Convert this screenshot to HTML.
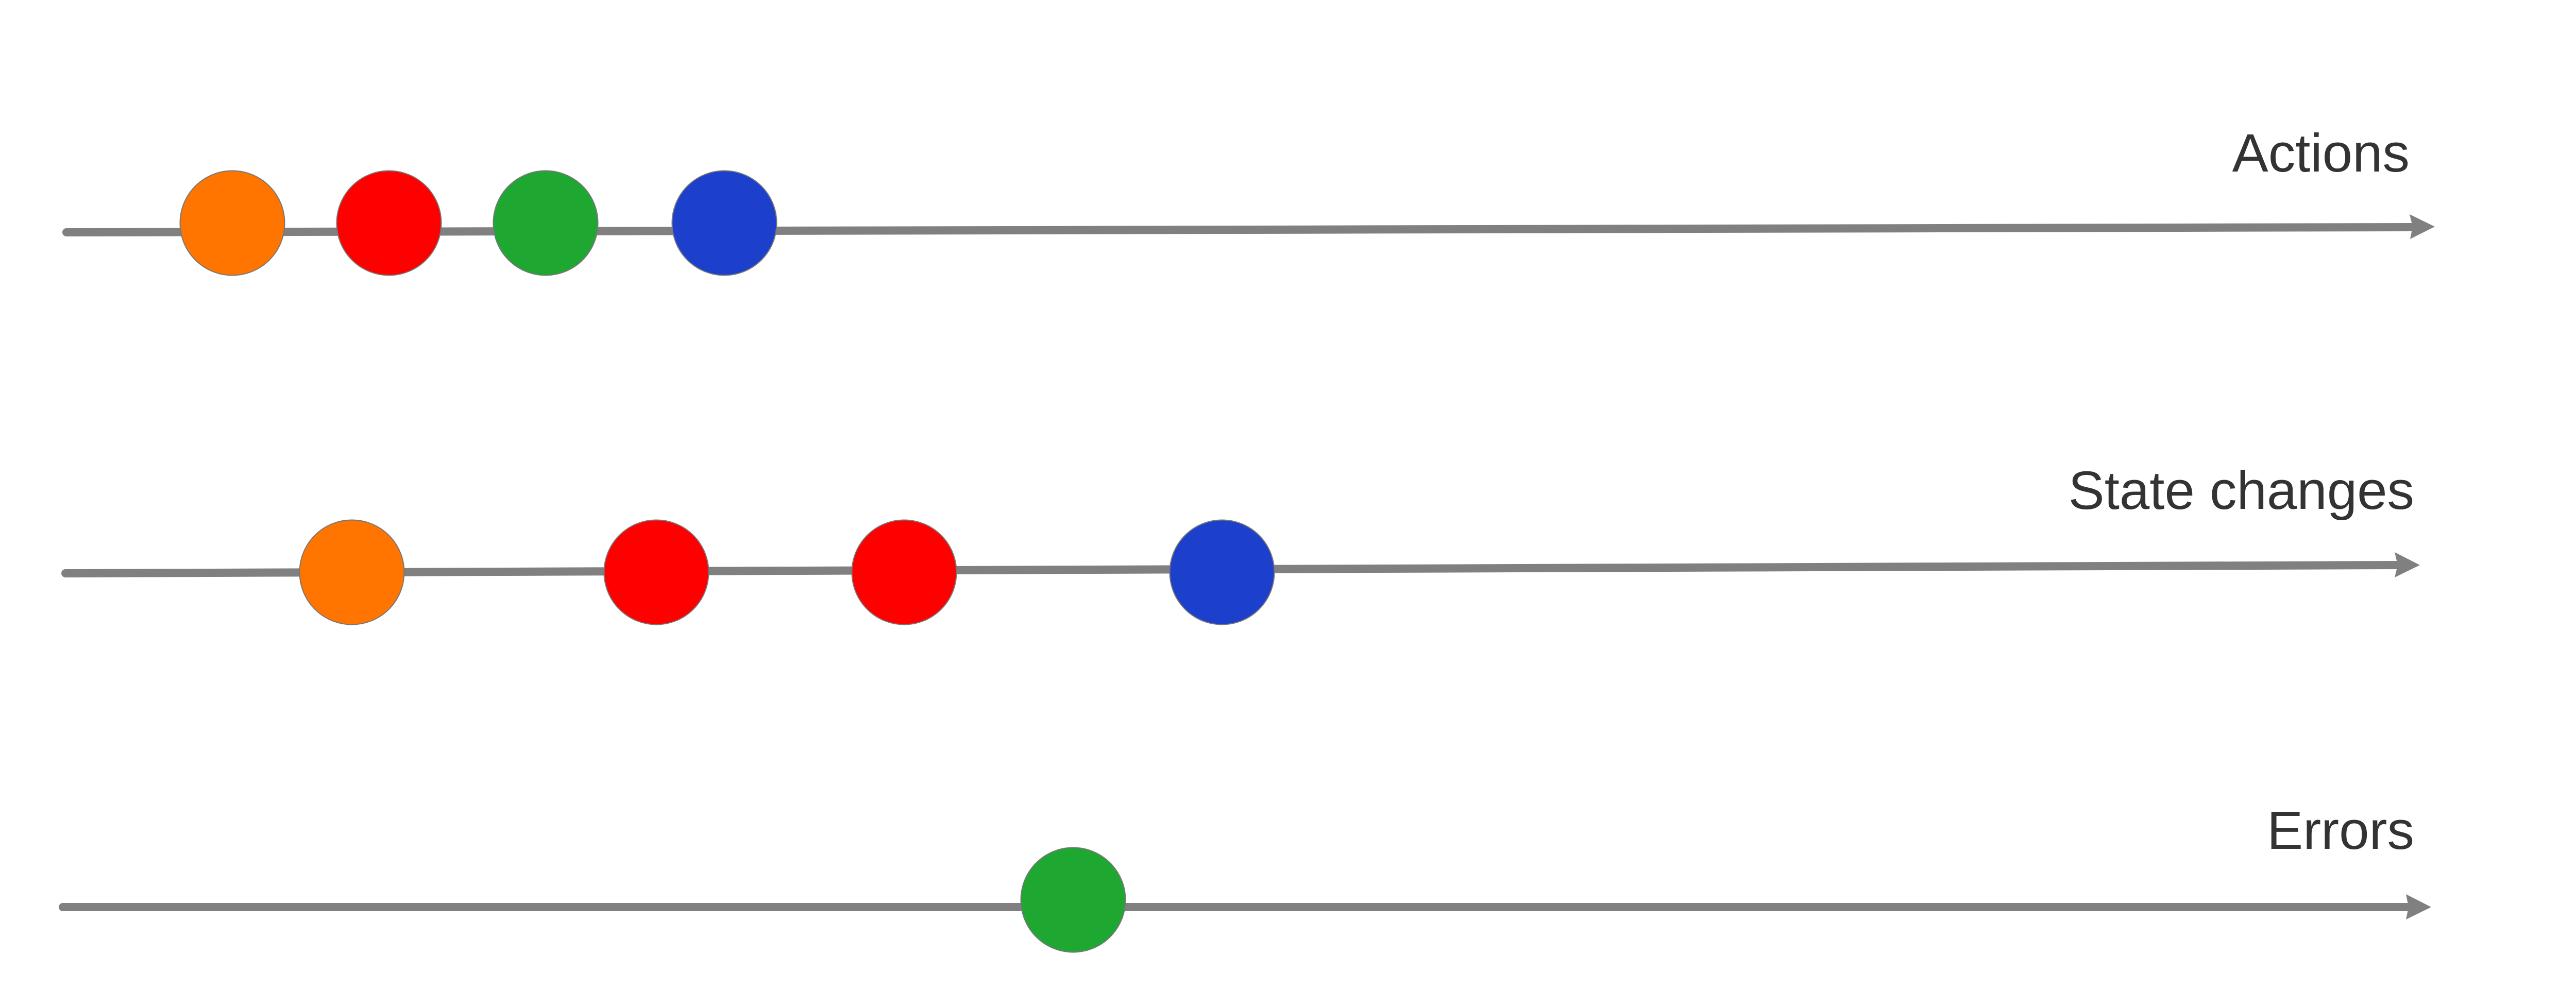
<!DOCTYPE html>
<html>
<head>
<meta charset="utf-8">
<style>
  html, body { margin: 0; padding: 0; background: #ffffff; }
  body { width: 5116px; height: 1953px; overflow: hidden; }
  svg { display: block; }
  text { font-family: "Liberation Sans", Arial, Helvetica, sans-serif; font-size: 105px; fill: #333333; }
</style>
</head>
<body>
<svg width="5116" height="1953" viewBox="0 0 5116 1953" xmlns="http://www.w3.org/2000/svg">
  <rect x="0" y="0" width="5116" height="1953" fill="#ffffff"/>

  <!-- Row 1: Actions -->
  <line x1="129" y1="451" x2="4684" y2="441" stroke="#808080" stroke-width="16" stroke-linecap="round"/>
  <polygon points="4677,416 4726,440 4678,464 4683,440" fill="#808080"/>
  <text x="4677" y="333" text-anchor="end">Actions</text>
  <circle cx="451" cy="433" r="101.5" fill="#FF7500" stroke="#777777" stroke-width="2"/>
  <circle cx="755" cy="433" r="101.5" fill="#FF0000" stroke="#777777" stroke-width="2"/>
  <circle cx="1059" cy="433" r="101.5" fill="#1EA831" stroke="#777777" stroke-width="2"/>
  <circle cx="1406" cy="433" r="101.5" fill="#1C40CC" stroke="#777777" stroke-width="2"/>

  <!-- Row 2: State changes -->
  <line x1="127" y1="1113" x2="4655" y2="1097" stroke="#808080" stroke-width="16" stroke-linecap="round"/>
  <polygon points="4648,1072 4697,1097 4648,1121 4654,1097" fill="#808080"/>
  <text x="4686" y="988" text-anchor="end">State changes</text>
  <circle cx="683" cy="1111" r="101.5" fill="#FF7500" stroke="#777777" stroke-width="2"/>
  <circle cx="1274" cy="1111" r="101.5" fill="#FF0000" stroke="#777777" stroke-width="2"/>
  <circle cx="1755" cy="1111" r="101.5" fill="#FF0000" stroke="#777777" stroke-width="2"/>
  <circle cx="2372" cy="1111" r="101.5" fill="#1C40CC" stroke="#777777" stroke-width="2"/>

  <!-- Row 3: Errors -->
  <line x1="122" y1="1761" x2="4676" y2="1761" stroke="#808080" stroke-width="16" stroke-linecap="round"/>
  <polygon points="4670,1736 4719,1761 4670,1785 4675,1761" fill="#808080"/>
  <text x="4686" y="1648" text-anchor="end">Errors</text>
  <circle cx="2083" cy="1747" r="101.5" fill="#1EA831" stroke="#777777" stroke-width="2"/>
</svg>
</body>
</html>
